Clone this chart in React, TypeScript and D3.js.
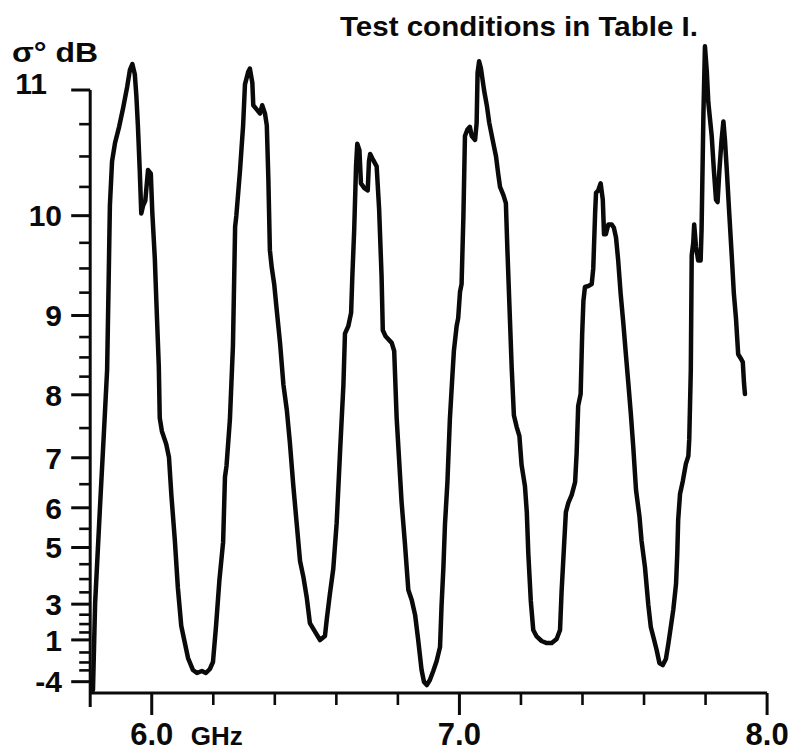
import React from 'react';
import * as d3 from 'd3';

// Frequency (GHz) of traced points along the σ° curve
const freqGHz = [
  5.809, 5.816, 5.832, 5.845, 5.855, 5.860, 5.864, 5.871, 5.881, 5.894,
  5.907, 5.920, 5.929, 5.937, 5.945, 5.950, 5.955, 5.961, 5.966, 5.972,
  5.979, 5.988, 5.997, 6.002, 6.010, 6.015, 6.023, 6.026, 6.033, 6.047,
  6.056, 6.064, 6.075, 6.085, 6.096, 6.107, 6.118, 6.134, 6.147, 6.163,
  6.176, 6.189, 6.199, 6.209, 6.220, 6.232, 6.238, 6.243, 6.254, 6.264,
  6.271, 6.275, 6.287, 6.292, 6.297, 6.303, 6.314, 6.319, 6.327, 6.330,
  6.341, 6.352, 6.359, 6.368, 6.374, 6.379, 6.384, 6.390, 6.398, 6.406,
  6.417, 6.428, 6.439, 6.449, 6.460, 6.471, 6.482, 6.493, 6.504, 6.514,
  6.531, 6.547, 6.563, 6.569, 6.579, 6.590, 6.601, 6.612, 6.623, 6.628,
  6.639, 6.648, 6.652, 6.658, 6.664, 6.668, 6.675, 6.680, 6.691, 6.702,
  6.706, 6.710, 6.720, 6.731, 6.739, 6.747, 6.751, 6.760, 6.780, 6.788,
  6.796, 6.804, 6.812, 6.823, 6.834, 6.845, 6.856, 6.866, 6.877, 6.885,
  6.894, 6.904, 6.915, 6.926, 6.937, 6.942, 6.948, 6.953, 6.961, 6.969,
  6.977, 6.982, 6.991, 6.996, 7.002, 7.007, 7.013, 7.018, 7.026, 7.034,
  7.040, 7.051, 7.056, 7.059, 7.064, 7.070, 7.080, 7.089, 7.097, 7.108,
  7.119, 7.126, 7.132, 7.143, 7.151, 7.156, 7.162, 7.170, 7.177, 7.186,
  7.195, 7.202, 7.213, 7.219, 7.224, 7.232, 7.240, 7.251, 7.267, 7.284,
  7.300, 7.316, 7.327, 7.332, 7.340, 7.346, 7.354, 7.365, 7.376, 7.381,
  7.386, 7.394, 7.399, 7.403, 7.408, 7.419, 7.430, 7.435, 7.441, 7.444,
  7.451, 7.459, 7.466, 7.470, 7.476, 7.484, 7.495, 7.502, 7.509, 7.516,
  7.524, 7.533, 7.541, 7.549, 7.557, 7.565, 7.574, 7.585, 7.592, 7.603,
  7.614, 7.622, 7.632, 7.641, 7.650, 7.661, 7.671, 7.679, 7.687, 7.695,
  7.704, 7.708, 7.711, 7.717, 7.726, 7.736, 7.744, 7.747, 7.752, 7.755,
  7.760, 7.763, 7.769, 7.776, 7.784, 7.787, 7.793, 7.798, 7.804, 7.809,
  7.820, 7.827, 7.834, 7.839, 7.845, 7.852, 7.858, 7.863, 7.869, 7.877,
  7.885, 7.892, 7.899, 7.906, 7.914, 7.921, 7.925, 7.928,
];

// σ° in dB at each traced point
const sigmaDb = [
  -6.45, 3.05, 6.04, 7.47, 8.34, 9.38, 10.09, 10.46, 10.61, 10.73,
  10.87, 11.02, 11.14, 11.18, 11.11, 10.96, 10.74, 10.39, 10.02, 10.09,
  10.13, 10.39, 10.36, 10.02, 9.60, 9.16, 8.38, 7.66, 7.45, 7.24,
  7.01, 6.26, 5.21, 3.67, 1.89, 0.85, -0.53, -1.95, -2.39, -2.09,
  -2.39, -1.81, -0.95, 1.89, 3.97, 5.15, 6.64, 6.85, 7.63, 8.65,
  9.90, 10.00, 10.39, 10.57, 10.74, 11.04, 11.13, 11.15, 11.05, 10.89,
  10.86, 10.83, 10.89, 10.83, 10.74, 10.32, 9.68, 9.51, 9.34, 9.07,
  8.68, 8.14, 7.78, 7.26, 6.48, 5.64, 4.60, 4.07, 3.27, 2.06,
  1.53, 0.99, 1.27, 2.28, 3.43, 4.35, 5.64, 7.10, 8.14, 8.79,
  8.88, 9.03, 9.42, 9.87, 10.42, 10.60, 10.55, 10.28, 10.24, 10.22,
  10.46, 10.52, 10.47, 10.42, 10.06, 9.42, 8.83, 8.76, 8.68, 8.58,
  7.66, 6.96, 6.13, 5.10, 3.59, 3.18, 2.49, 0.99, -1.95, -4.07,
  -4.82, -3.64, -2.09, -0.84, 0.46, 2.96, 4.41, 5.60, 6.54, 7.64,
  8.25, 8.58, 8.88, 8.97, 9.26, 9.34, 10.00, 10.66, 10.71, 10.73,
  10.66, 10.63, 10.76, 11.12, 11.20, 11.15, 11.00, 10.89, 10.76, 10.63,
  10.50, 10.36, 10.25, 10.18, 10.11, 9.68, 9.16, 8.36, 7.70, 7.52,
  7.37, 6.87, 6.46, 5.90, 4.81, 3.14, 1.65, 1.24, 0.92, 0.77,
  0.77, 1.06, 1.65, 3.51, 5.04, 5.90, 6.11, 6.28, 6.54, 7.08,
  7.84, 8.01, 8.79, 9.16, 9.31, 9.32, 9.34, 9.50, 10.02, 10.20,
  10.22, 10.28, 10.14, 9.83, 9.83, 9.92, 9.92, 9.89, 9.80, 9.58,
  9.24, 8.90, 8.54, 8.16, 7.73, 7.19, 6.38, 5.81, 5.18, 4.41,
  2.96, 1.83, 1.06, 0.22, -1.06, -1.30, -0.63, 0.70, 1.83, 2.73,
  3.82, 4.81, 5.72, 6.30, 6.56, 6.89, 7.03, 7.32, 8.33, 9.63,
  9.75, 9.92, 9.71, 9.58, 9.58, 9.87, 10.82, 11.30, 11.13, 10.91,
  10.66, 10.39, 10.14, 10.12, 10.39, 10.63, 10.77, 10.63, 10.39, 10.02,
  9.63, 9.24, 8.96, 8.54, 8.49, 8.44, 8.16, 8.01,
];

// Axis ticks
const yLabelTicks = [11, 10, 9, 8, 7, 6, 5, 3, 1, -4];
const yMinorTicks = [10.75, 10.5, 10.25, 9.75, 9.5, 9.25, 8.75, 8.5, 8.25, 7.5, 6.5, 5.5, 4.5, 4, 3.5, 2.5, 2, 1.5, 0, -1, -2];
const xLabelTicks = [6.0, 7.0, 8.0];
const xLabelTexts = ['6.0', '7.0', '8.0'];
const xMinorTicks = [6.2, 6.4, 6.6, 6.8, 7.2, 7.4, 7.6, 7.8];
const xUnit = 'GHz';
const yAxisTitle = 'σ° dB';
const chartTitle = 'Test conditions in Table I.';

const W = 806;
const H = 755;
const FONT = "'Liberation Sans', Arial, sans-serif";
const toPower = (db: number) => Math.pow(10, db / 10);

export default function App() {
  const x = d3.scaleLinear().domain([5.8, 8.0]).range([90.2, 767.1]);
  // σ° plotted on a linear power scale, labelled in dB
  const y = d3.scaleLinear().domain([0, toPower(11)]).range([701, 90]);
  const axisY = 693;
  const x0 = x(5.8);

  const line = d3
    .line<number>()
    .x((_, i) => x(freqGHz[i]))
    .y((d) => y(toPower(d)));
  const path = line(sigmaDb) || '';

  const stroke = '#0a0a0a';

  return (
    <svg
      width={W}
      height={H}
      viewBox={`0 0 ${W} ${H}`}
      style={{ position: 'absolute', left: 0, top: 0, background: '#fff' }}
    >
      <rect x={0} y={0} width={W} height={H} fill="#fff" />

      {/* title */}
      <text
        x={340}
        y={36}
        fontFamily={FONT}
        fontWeight="bold"
        fontSize={28}
        textLength={358}
        lengthAdjust="spacingAndGlyphs"
        fill={stroke}
      >
        {chartTitle}
      </text>

      {/* y axis title */}
      <text
        x={12}
        y={62}
        fontFamily={FONT}
        fontWeight="bold"
        fontSize={28}
        textLength={86}
        lengthAdjust="spacingAndGlyphs"
        fill={stroke}
      >
        {yAxisTitle}
      </text>

      {/* y axis */}
      <line x1={x0} y1={y(toPower(11))} x2={x0} y2={axisY + 14} stroke={stroke} strokeWidth={3} />
      {yLabelTicks.map((t) => (
        <line key={'ym' + t} x1={x0 - 19} x2={x0} y1={y(toPower(t))} y2={y(toPower(t))} stroke={stroke} strokeWidth={3} />
      ))}
      {yMinorTicks.map((t) => (
        <line key={'yn' + t} x1={x0 - 11} x2={x0} y1={y(toPower(t))} y2={y(toPower(t))} stroke={stroke} strokeWidth={2.6} />
      ))}
      {yLabelTicks.map((t) => (
        <text
          key={'yl' + t}
          x={t === 11 ? 47 : 62}
          y={y(toPower(t)) + (t === 11 ? -7 : 0)}
          dy="0.36em"
          textAnchor="end"
          fontFamily={FONT}
          fontWeight="bold"
          fontSize={30}
          fill={stroke}
        >
          {String(t)}
        </text>
      ))}

      {/* x axis */}
      <line x1={x0 - 1} y1={axisY} x2={x(8.0)} y2={axisY} stroke={stroke} strokeWidth={3} />
      {xLabelTicks.map((t) => (
        <line key={'xm' + t} x1={x(t)} x2={x(t)} y1={axisY} y2={axisY + 22} stroke={stroke} strokeWidth={3} />
      ))}
      {xMinorTicks.map((t) => (
        <line key={'xn' + t} x1={x(t)} x2={x(t)} y1={axisY} y2={axisY + 12} stroke={stroke} strokeWidth={2.6} />
      ))}
      {xLabelTicks.map((t, i) => (
        <text
          key={'xl' + t}
          x={x(t)}
          y={745}
          textAnchor="middle"
          fontFamily={FONT}
          fontWeight="bold"
          fontSize={31}
          fill={stroke}
        >
          {xLabelTexts[i]}
        </text>
      ))}
      <text x={x(6.0) + 39} y={745} fontFamily={FONT} fontWeight="bold" fontSize={26} fill={stroke}>
        {xUnit}
      </text>

      {/* σ° curve */}
      <path d={path} fill="none" stroke={stroke} strokeWidth={4.5} strokeLinejoin="round" strokeLinecap="round" />
    </svg>
  );
}
